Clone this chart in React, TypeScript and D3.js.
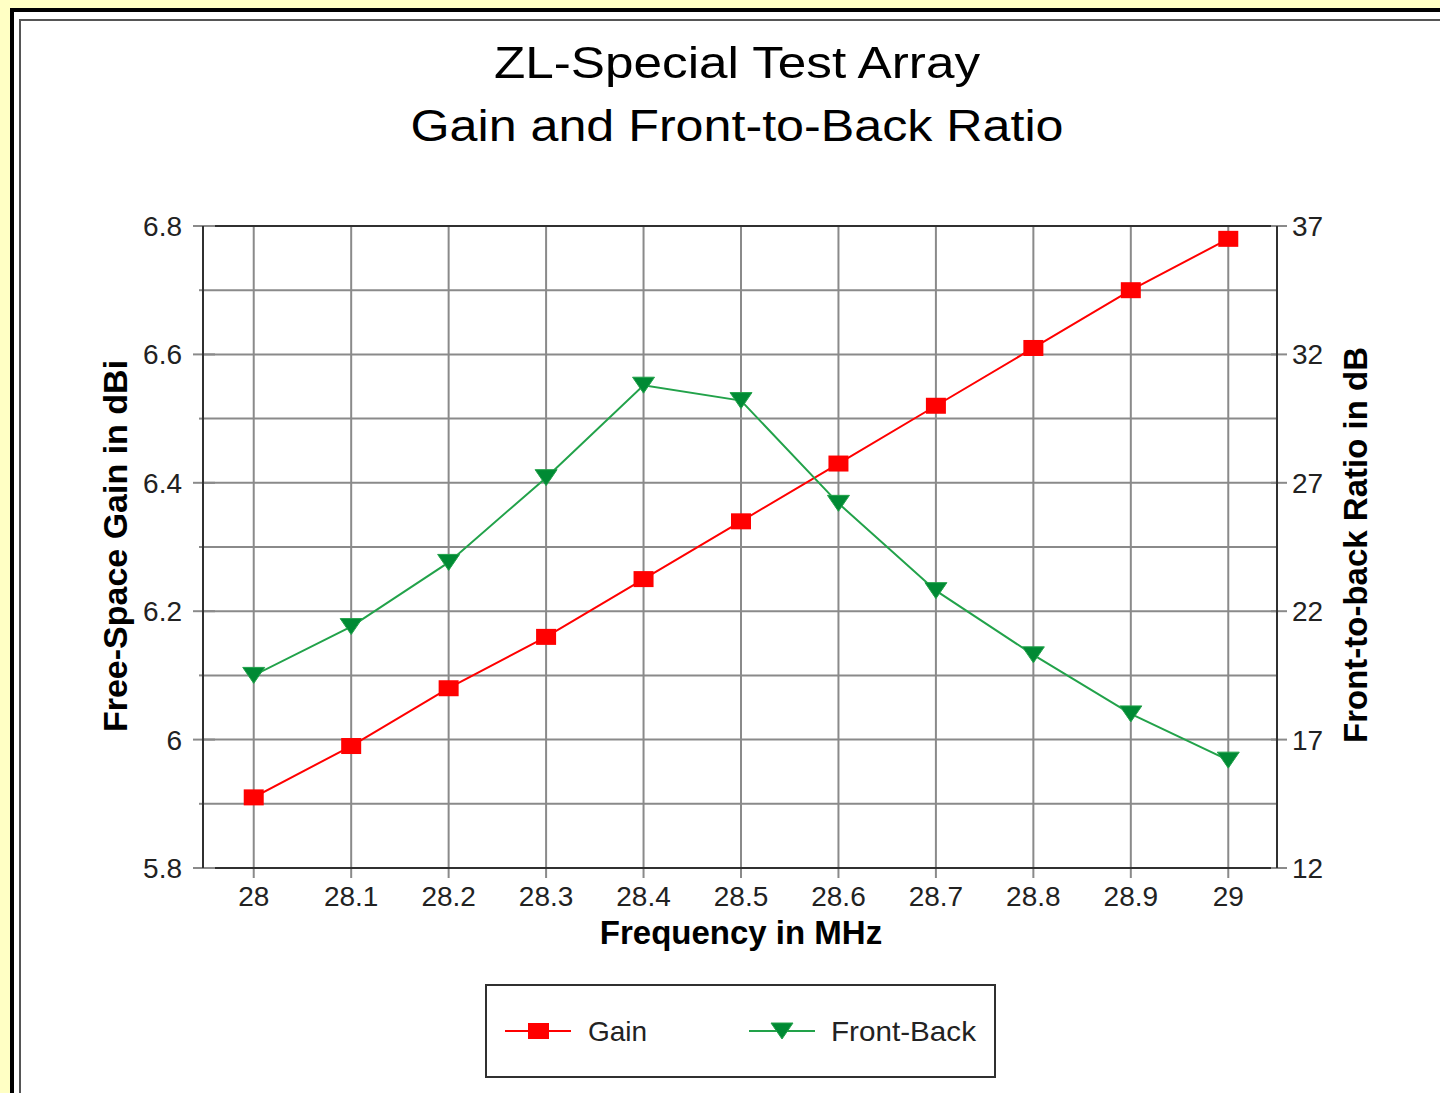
import React from "react";
import * as d3 from "d3";

const categories = ["28", "28.1", "28.2", "28.3", "28.4", "28.5", "28.6", "28.7", "28.8", "28.9", "29"];
const gainValues = [5.91, 5.99, 6.08, 6.16, 6.25, 6.34, 6.43, 6.52, 6.61, 6.70, 6.78];
const frontBackValues = [19.5, 21.4, 23.9, 27.2, 30.8, 30.2, 26.2, 22.8, 20.3, 18.0, 16.2];
const leftTicks = [5.8, 6.0, 6.2, 6.4, 6.6, 6.8];
const leftMinorTicks = [5.9, 6.1, 6.3, 6.5, 6.7];
const rightTicks = [12, 17, 22, 27, 32, 37];
const gridValues = [5.9, 6.0, 6.1, 6.2, 6.3, 6.4, 6.5, 6.6, 6.7];
const titleLines = ["ZL-Special Test Array", "Gain and Front-to-Back Ratio"];

const FONT = "'Liberation Sans', Arial, Helvetica, sans-serif";

export default function App() {
  const W = 1440;
  const H = 1093;
  const left = 203, right = 1277, top = 226, bottom = 868;

  const x = d3.scalePoint<string>().domain(categories).range([205, right]).padding(0.5);
  const yL = d3.scaleLinear().domain([5.8, 6.8]).range([bottom, top]);
  const yR = d3.scaleLinear().domain([12, 37]).range([bottom, top]);

  const gainLine = d3.line<number>().x((_, i) => x(categories[i])!).y((d) => yL(d));
  const fbLine = d3.line<number>().x((_, i) => x(categories[i])!).y((d) => yR(d));

  const red = "#ff0000";
  const greenLine = "#22a24a";
  const greenFill = "#008a34";
  const gridColor = "#8a8a8a";
  const frameColor = "#303030";

  const tri = (cx: number, cy: number) =>
    `M${cx - 11},${cy - 8}L${cx + 11},${cy - 8}L${cx},${cy + 8}Z`;

  return (
    <svg
      width={W}
      height={H}
      style={{ position: "absolute", left: 0, top: 0, display: "block" }}
      fontFamily={FONT}
    >
      <rect x={0} y={0} width={W} height={H} fill="#ffffc4" />
      <rect x={12} y={10} width={1460} height={1120} fill="#ffffff" stroke="#000" strokeWidth={4} />
      <rect x={20} y={20} width={1440} height={1100} fill="#ffffff" stroke="#555" strokeWidth={2} />

      {/* Title */}
      {titleLines.map((t, i) => (
        <text
          key={t}
          x={737}
          y={i === 0 ? 78 : 141}
          textAnchor="middle"
          fontSize={45}
          fill="#000"
          textLength={i === 0 ? 486 : 653}
          lengthAdjust="spacingAndGlyphs"
        >
          {t}
        </text>
      ))}

      {/* horizontal grid */}
      {gridValues.map((v) => (
        <line key={"g" + v} x1={left} x2={right} y1={yL(v)} y2={yL(v)} stroke={gridColor} strokeWidth={2} />
      ))}
      {/* vertical grid */}
      {categories.map((c) => (
        <line key={"v" + c} x1={x(c)} x2={x(c)} y1={top} y2={bottom + 10} stroke={gridColor} strokeWidth={2} />
      ))}
      {/* left ticks */}
      {leftTicks.map((v) => (
        <line key={"lt" + v} x1={193} x2={left + 12} y1={yL(v)} y2={yL(v)} stroke={gridColor} strokeWidth={2} />
      ))}
      {leftMinorTicks.map((v) => (
        <line key={"lm" + v} x1={199} x2={left} y1={yL(v)} y2={yL(v)} stroke={gridColor} strokeWidth={2} />
      ))}
      {/* right ticks */}
      {rightTicks.map((v) => (
        <line key={"rt" + v} x1={right - 6} x2={right + 10} y1={yR(v)} y2={yR(v)} stroke={gridColor} strokeWidth={2} />
      ))}

      {/* frame */}
      <line x1={left + 12} x2={right - 6} y1={top} y2={top} stroke={frameColor} strokeWidth={2} />
      <line x1={left + 12} x2={right - 6} y1={bottom} y2={bottom} stroke={frameColor} strokeWidth={2} />
      <line x1={left} x2={left} y1={top} y2={bottom} stroke={frameColor} strokeWidth={2} />
      <line x1={right} x2={right} y1={top} y2={bottom} stroke={frameColor} strokeWidth={2} />

      {/* tick labels */}
      {leftTicks.map((v) => (
        <text key={"ll" + v} x={182} y={yL(v)} dy="0.36em" textAnchor="end" fontSize={28} fill="#222">
          {d3.format("~g")(v)}
        </text>
      ))}
      {rightTicks.map((v) => (
        <text key={"rl" + v} x={1292} y={yR(v)} dy="0.36em" textAnchor="start" fontSize={28} fill="#222">
          {v}
        </text>
      ))}
      {categories.map((c) => (
        <text key={"xl" + c} x={x(c)} y={906} textAnchor="middle" fontSize={28} fill="#222">
          {c}
        </text>
      ))}

      {/* axis titles */}
      <text x={741} y={944} textAnchor="middle" fontSize={33} fontWeight="bold" fill="#000">
        Frequency in MHz
      </text>
      <text
        transform="translate(127,546) rotate(-90)"
        textAnchor="middle"
        fontSize={34}
        fontWeight="bold"
        fill="#000"
      >
        Free-Space Gain in dBi
      </text>
      <text
        transform="translate(1367,545) rotate(-90)"
        textAnchor="middle"
        fontSize={33}
        fontWeight="bold"
        fill="#000"
      >
        Front-to-back Ratio in dB
      </text>

      {/* series */}
      <path d={gainLine(gainValues) || ""} fill="none" stroke={red} strokeWidth={2} />
      <path d={fbLine(frontBackValues) || ""} fill="none" stroke={greenLine} strokeWidth={2} />
      {gainValues.map((v, i) => (
        <rect key={"gm" + i} x={x(categories[i])! - 10} y={yL(v) - 8} width={20} height={16} fill={red} />
      ))}
      {frontBackValues.map((v, i) => (
        <path key={"fm" + i} d={tri(x(categories[i])!, yR(v))} fill={greenFill} stroke={greenLine} strokeWidth={1} />
      ))}

      {/* legend */}
      <rect x={486} y={985} width={509} height={92} fill="#fff" stroke={frameColor} strokeWidth={2} />
      <line x1={505} x2={571} y1={1031} y2={1031} stroke={red} strokeWidth={2} />
      <rect x={528} y={1023} width={21} height={16} fill={red} />
      <text x={588} y={1041} fontSize={28} fill="#222">Gain</text>
      <line x1={749} x2={815} y1={1031} y2={1031} stroke={greenLine} strokeWidth={2} />
      <path d={tri(782, 1031)} fill={greenFill} stroke={greenLine} strokeWidth={1} />
      <text x={831} y={1041} fontSize={28} fill="#222" textLength={145} lengthAdjust="spacingAndGlyphs">Front-Back</text>
    </svg>
  );
}
